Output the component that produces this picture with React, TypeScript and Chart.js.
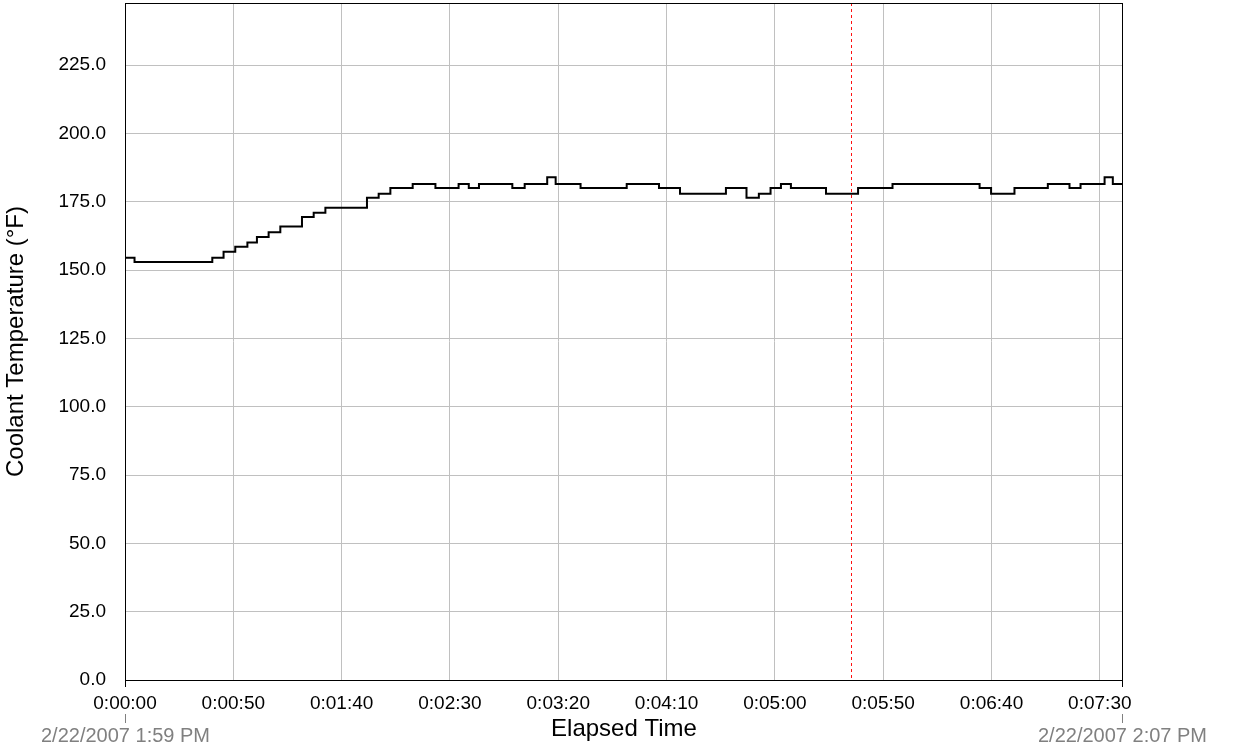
import React, { useEffect, useRef } from "react";
import { Chart, registerables } from "chart.js";

Chart.register(...registerables);

// Elapsed time (seconds) at which each reading starts
const elapsedSeconds = [
  0, 4.4, 40.3, 45.5, 50.9, 56.5, 60.9, 66.3, 71.7, 81.7,
  87.1, 92.5, 111.7, 117.1, 122.5, 132.8, 143.3, 154, 158.7, 163.4,
  178.8, 184.5, 194.9, 198.8, 210.3, 231.6, 246.5, 256.2, 277.4, 286.9,
  292.6, 298, 302.8, 307.4, 323.6, 338.4, 354.3, 394.5, 399.8, 410.6,
  426, 436, 441.1, 452.2, 456, 460.7,
];
// Coolant temperature (°F)
const coolantTemp = [
  154.5, 152.9, 154.5, 156.7, 158.5, 160.1, 162.1, 163.8, 165.9, 169.4,
  171.0, 172.8, 176.4, 177.9, 180.0, 181.5, 180.0, 181.5, 180.0, 181.5,
  180.0, 181.5, 183.9, 181.5, 180.0, 181.5, 180.0, 177.9, 180.0, 176.4,
  177.9, 180.0, 181.5, 180.0, 177.9, 180.0, 181.5, 180.0, 177.9, 180.0,
  181.5, 180.0, 181.5, 183.9, 181.5, 181.5,
];
// Tick positions
const xTickSeconds = [0, 50, 100, 150, 200, 250, 300, 350, 400, 450];
const yTickValues = [0, 25, 50, 75, 100, 125, 150, 175, 200, 225];
const xMax = 460.7;
const yMax = 247.7;
const cursorSeconds = 335.3;
const startLabel = "2/22/2007 1:59 PM";
const endLabel = "2/22/2007 2:07 PM";
const xTitle = "Elapsed Time";
const yTitle = "Coolant Temperature (°F)";

const FONT = "'Liberation Sans', Arial, sans-serif";

function fmtTime(s: number): string {
  const h = Math.floor(s / 3600);
  const m = Math.floor((s % 3600) / 60);
  const sec = Math.round(s % 60);
  return `${h}:${String(m).padStart(2, "0")}:${String(sec).padStart(2, "0")}`;
}

const framePlugin = {
  id: "frame",
  afterDraw(chart: any) {
    const { ctx, chartArea } = chart;
    const xs = chart.scales.x;
    ctx.save();
    // cursor line
    const cx = Math.round(xs.getPixelForValue(cursorSeconds)) + 0.5;
    ctx.strokeStyle = "#ff1010";
    ctx.lineWidth = 1;
    ctx.setLineDash([3, 3]);
    ctx.beginPath();
    ctx.moveTo(cx, chartArea.top);
    ctx.lineTo(cx, chartArea.bottom);
    ctx.stroke();
    ctx.setLineDash([]);
    // frame
    ctx.strokeStyle = "#000";
    ctx.lineWidth = 1;
    ctx.strokeRect(
      Math.round(chartArea.left) + 0.5,
      Math.round(chartArea.top) + 0.5,
      Math.round(chartArea.right - chartArea.left) - 1,
      Math.round(chartArea.bottom - chartArea.top)
    );
    // end markers and date labels
    const ends = [
      { x: Math.round(chartArea.left) + 0.5, label: startLabel },
      { x: Math.round(chartArea.right) - 0.5, label: endLabel },
    ];
    ctx.font = `20px ${FONT}`;
    ctx.textAlign = "center";
    ctx.textBaseline = "alphabetic";
    for (const e of ends) {
      ctx.strokeStyle = "#000";
      ctx.beginPath();
      ctx.moveTo(e.x, chartArea.bottom);
      ctx.lineTo(e.x, chartArea.bottom + 7);
      ctx.stroke();
      ctx.strokeStyle = "#808080";
      ctx.beginPath();
      ctx.moveTo(e.x, chartArea.bottom + 34);
      ctx.lineTo(e.x, chartArea.bottom + 43);
      ctx.stroke();
      ctx.fillStyle = "#808080";
      ctx.fillText(e.label, e.x, chartArea.bottom + 62);
    }
    ctx.restore();
  },
};

export default function App() {
  const ref = useRef<HTMLCanvasElement | null>(null);
  useEffect(() => {
    if (!ref.current) return;
    const points = elapsedSeconds.map((t, i) => ({ x: t, y: coolantTemp[i] }));
    const chart = new Chart(ref.current, {
      type: "line",
      data: {
        datasets: [
          {
            data: points,
            borderColor: "#000",
            borderWidth: 2,
            pointRadius: 0,
            stepped: true,
            fill: false,
          },
        ],
      },
      options: {
        animation: false,
        responsive: false,
        maintainAspectRatio: false,
        layout: { padding: { top: 3, right: 113, bottom: 2, left: 0 } },
        plugins: { legend: { display: false }, tooltip: { enabled: false } },
        scales: {
          x: {
            type: "linear",
            min: 0,
            max: xMax,
            afterBuildTicks: (s: any) => {
              s.ticks = xTickSeconds.map((v) => ({ value: v }));
            },
            afterFit: (s: any) => {
              s.height = 68;
              s.paddingLeft = 0;
              s.paddingRight = 0;
            },
            ticks: {
              autoSkip: false,
              maxRotation: 0,
              padding: 12,
              color: "#000",
              font: { family: FONT, size: 19 },
              callback: (v: any) => fmtTime(Number(v)),
            },
            grid: { color: "#c0c0c0", drawTicks: false, lineWidth: 1 },
            border: { display: false },
            title: {
              display: true,
              text: xTitle,
              color: "#000",
              font: { family: FONT, size: 24 },
              padding: { top: 4, bottom: 4 },
            },
          },
          y: {
            type: "linear",
            min: 0,
            max: yMax,
            afterBuildTicks: (s: any) => {
              s.ticks = yTickValues.map((v) => ({ value: v }));
            },
            afterFit: (s: any) => {
              s.width = 125;
              s.paddingTop = 0;
              s.paddingBottom = 0;
            },
            ticks: {
              padding: 19,
              color: "#000",
              font: { family: FONT, size: 19 },
              callback: (v: any) => Number(v).toFixed(1),
            },
            grid: { color: "#c0c0c0", drawTicks: false, lineWidth: 1 },
            border: { display: false },
            title: {
              display: true,
              text: yTitle,
              color: "#000",
              font: { family: FONT, size: 24 },
              padding: { top: 2, bottom: 4 },
            },
          },
        },
      },
      plugins: [framePlugin],
    });
    return () => chart.destroy();
  }, []);
  return (
    <div style={{ position: "absolute", left: 0, top: 0, width: 1236, height: 750, background: "#fff" }}>
      <canvas ref={ref} width={1236} height={750} style={{ display: "block" }} />
    </div>
  );
}
